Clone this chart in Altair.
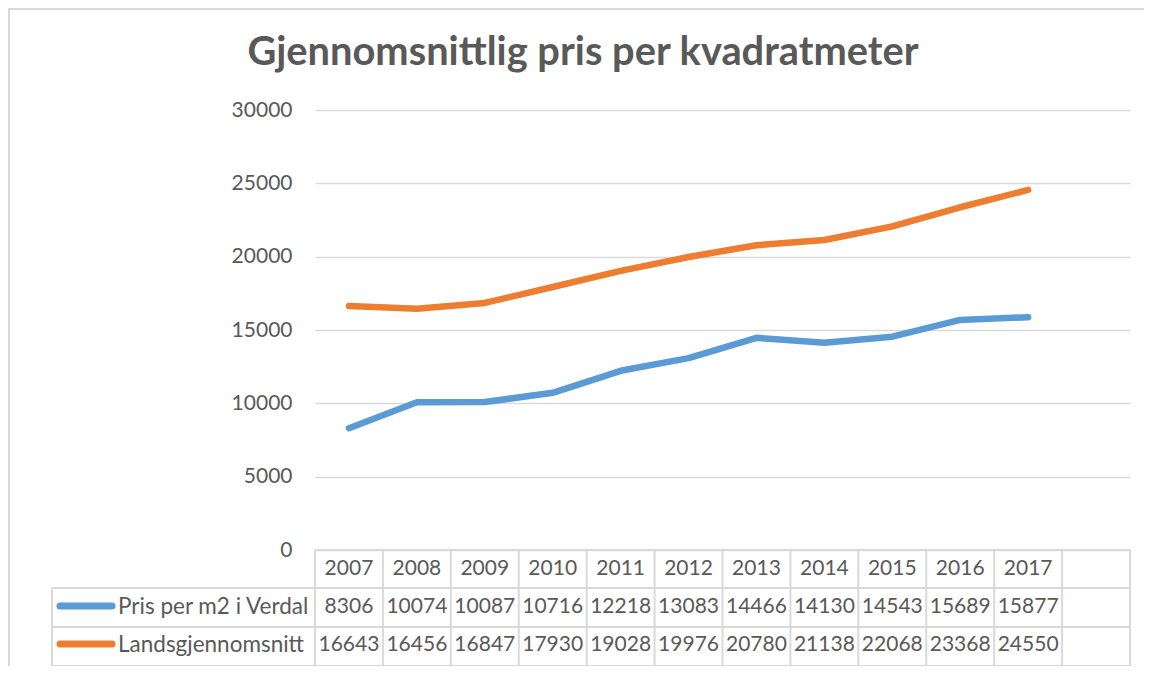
import altair as alt
import pandas as pd

TITLE = "Gjennomsnittlig pris per kvadratmeter"
years = [2007, 2008, 2009, 2010, 2011, 2012, 2013, 2014, 2015, 2016, 2017]
series_names = ["Pris per m2 i Verdal", "Landsgjennomsnitt"]
verdal = [8306, 10074, 10087, 10716, 12218, 13083, 14466, 14130, 14543, 15689, 15877]
lands = [16643, 16456, 16847, 17930, 19028, 19976, 20780, 21138, 22068, 23368, 24550]
colors = ["#5B9BD5", "#ED7D31"]
y_ticks = [0, 5000, 10000, 15000, 20000, 25000, 30000]

FONT = "Lato"
TXT = "#595959"
GRID = "#D9D9D9"

W, H = 815, 440
L, T = 307, 102
ROW = 38
n_slots = len(years) + 1  # one empty column at the end, as in the source
x_dom = [years[0] - 0.5, years[0] - 0.5 + n_slots]

long = pd.DataFrame(
    [{"year": y, "series": series_names[0], "value": v} for y, v in zip(years, verdal)]
    + [{"year": y, "series": series_names[1], "value": v} for y, v in zip(years, lands)]
)
years_df = pd.DataFrame({"year": years})
bounds_df = pd.DataFrame({"year": [x_dom[0] + i for i in range(n_slots + 1)]})
names_df = pd.DataFrame({"series": series_names, "row": [1, 2]})
one = pd.DataFrame({"k": ["a"]})

xs = alt.Scale(domain=x_dom, nice=False, zero=False)
cs = alt.Scale(domain=series_names, range=colors)
X = alt.X("year:Q", scale=xs, axis=None)

lines = alt.Chart(long).mark_line(strokeWidth=6.5, strokeCap="round", strokeJoin="round").encode(
    x=X,
    y=alt.Y("value:Q", scale=alt.Scale(domain=[0, 30000], nice=False),
            axis=alt.Axis(values=y_ticks, format="d", title=None, domain=False, ticks=False, grid=True,
                          gridColor=GRID, gridWidth=1.5, labelFont=FONT, labelFontSize=21,
                          labelColor=TXT, labelPadding=23)),
    color=alt.Color("series:N", scale=cs, legend=None),
    order="year:Q",
)

num = dict(font=FONT, fontSize=21, color=TXT, baseline="middle")
lab = dict(font=FONT, fontSize=22.5, color=TXT, baseline="middle")

header = alt.Chart(years_df).mark_text(**num).encode(
    x=X, y=alt.value(H + ROW / 2), text="year:N"
)
row1 = alt.Chart(long).transform_filter(alt.datum.series == series_names[0]).mark_text(**num).encode(
    x=X, y=alt.value(H + ROW * 1.5), text="value:N"
)
row2 = alt.Chart(long).transform_filter(alt.datum.series == series_names[1]).mark_text(**num).encode(
    x=X, y=alt.value(H + ROW * 2.5), text="value:N"
)
lab1 = alt.Chart(names_df).transform_filter(alt.datum.row == 1).mark_text(align="left", **lab).encode(
    x=alt.value(-197), y=alt.value(H + ROW * 1.5), text="series:N"
)
lab2 = alt.Chart(names_df).transform_filter(alt.datum.row == 2).mark_text(align="left", **lab).encode(
    x=alt.value(-197), y=alt.value(H + ROW * 2.5), text="series:N"
)
key1 = alt.Chart(names_df).transform_filter(alt.datum.row == 1).mark_rule(strokeWidth=7, strokeCap="round").encode(
    x=alt.value(-255), x2=alt.value(-203), y=alt.value(H + ROW * 1.5 - 1),
    color=alt.Color("series:N", scale=cs, legend=None)
)
key2 = alt.Chart(names_df).transform_filter(alt.datum.row == 2).mark_rule(strokeWidth=7, strokeCap="round").encode(
    x=alt.value(-255), x2=alt.value(-203), y=alt.value(H + ROW * 2.5 - 1),
    color=alt.Color("series:N", scale=cs, legend=None)
)

# table grid
vlines = alt.Chart(bounds_df).mark_rule(color=GRID, strokeWidth=2).encode(
    x=X, y=alt.value(H), y2=alt.value(H + ROW * 3 + 2)
)


def hrule(x0, x1, y):
    return alt.Chart(one).mark_rule(color=GRID, strokeWidth=2).encode(
        x=alt.value(x0), x2=alt.value(x1), y=alt.value(y), detail="k:N"
    )


def vrule(x, y0, y1):
    return alt.Chart(one).mark_rule(color=GRID, strokeWidth=2).encode(
        x=alt.value(x), y=alt.value(y0), y2=alt.value(y1), detail="k:N"
    )


hl_top = hrule(0, W, H)
hl1 = hrule(-263, W, H + ROW)
hl2 = hrule(-263, W, H + ROW * 2 + 1)
hl3 = hrule(-263, W, H + ROW * 3 + 2)
vl_left = vrule(-263, H + ROW, H + ROW * 3 + 2)

# outer chart border (top and left edges visible)
border_t = hrule(-L, W + 20, -T + 1)
border_l = vrule(-L + 1, -T, H + 130)

title = alt.Chart(pd.DataFrame({"t": [TITLE]})).mark_text(
    font=FONT, fontSize=39.8, fontWeight="bold", color=TXT, align="center", baseline="alphabetic"
).encode(x=alt.value(268), y=alt.value(-45), text="t:N")

chart = alt.layer(
    border_t, border_l, vlines, hl_top, hl1, hl2, hl3, vl_left,
    lines, header, row1, row2, key1, key2, lab1, lab2, title
).properties(
    width=W, height=H,
    autosize=alt.AutoSizeParams(type="none"),
    padding={"left": L, "top": T, "right": 14, "bottom": 116},
    background="white",
).configure_view(stroke=None)

chart.save("out.html", embed_options={"renderer": "svg", "actions": False})
